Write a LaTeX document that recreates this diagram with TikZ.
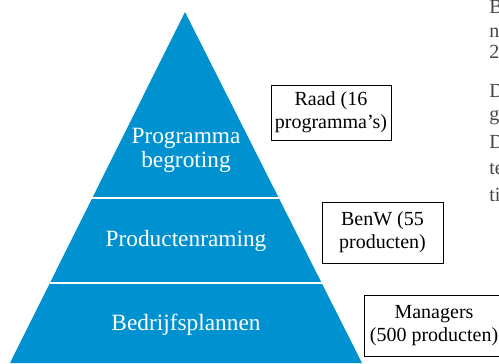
\documentclass[tikz,border=0pt]{standalone}
\usepackage{fontspec}
\setmainfont{Liberation Serif}
\usetikzlibrary{positioning,calc}
\definecolor{pyrblue}{RGB}{0,146,208}
\definecolor{sidegray}{RGB}{70,70,70}

\begin{document}
\begin{tikzpicture}[x=0.6pt,y=-0.6pt,
 tier/.style={text=white,align=center,inner sep=0pt,font=\fontsize{14}{14.5}\selectfont},
 sep/.style={draw=white,line width=0.8pt},
 who/.style={draw=black,line width=0.6pt,align=center,inner sep=0pt,minimum height=33pt,font=\fontsize{12}{13.8}\selectfont},
 frag/.style={anchor=base west,inner sep=0pt,text=sidegray,font=\fontsize{12}{14}\selectfont}]
\useasboundingbox (0,0) rectangle (499,363);
\clip (0,0) rectangle (499,363);
\coordinate (apex) at (185,12);
\coordinate (bl) at (10,363);
\coordinate (br) at (362,363);
\fill[pyrblue] (apex) -- (br) -- (bl) -- cycle;
\draw[sep] ($(apex)!0.530!(bl)$) -- ($(apex)!0.530!(br)$);
\draw[sep] ($(apex)!0.772!(bl)$) -- ($(apex)!0.772!(br)$);
\node[tier] (t1) at (186,150) {Programma\\ begroting};
\node[tier] (t2) at (186,241) {Productenraming};
\node[tier] (t3) at (186,325) {Bedrijfsplannen};
\node[who,minimum width=72pt] (raad) at (331,112.5) {Raad (16\\ programma’s)};
\node[who,minimum width=72.6pt,minimum height=36.6pt] (benw) at (382.5,232.5) {BenW (55\\ producten)};
\node[who,minimum width=84pt,minimum height=36.6pt] (mgr) at (434,325.5) {Managers\\ (500 producten)};
% afgesneden tekst van de pagina
\node[frag] (f1) at (489,13) {B};
\node[frag] (f2) at (489,37) {n};
\node[frag] (f3) at (489,58) {2};
\node[frag] (f4) at (489,97) {D};
\node[frag] (f5) at (489,120) {g};
\node[frag] (f6) at (489,148) {D};
\node[frag] (f7) at (489,174) {te};
\node[frag] (f8) at (489,201) {ti};
\end{tikzpicture}
\end{document}
